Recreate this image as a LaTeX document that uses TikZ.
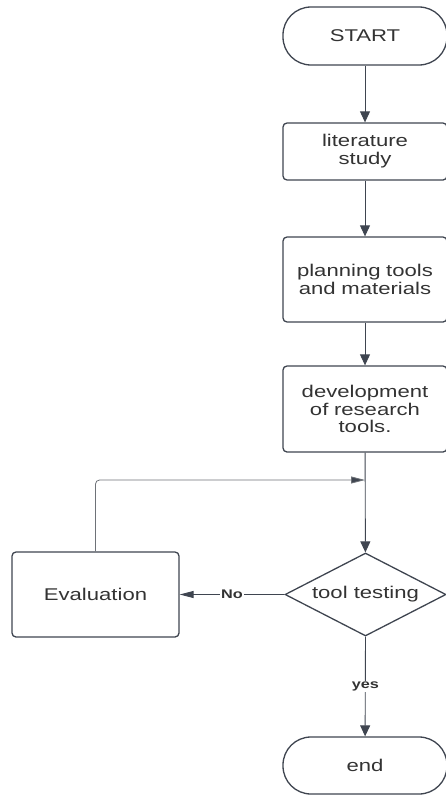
\documentclass[tikz,border=0pt]{standalone}
\usepackage{fontspec}
\setmainfont[FakeStretch=1.3]{Liberation Sans}
\usetikzlibrary{shapes.geometric,arrows.meta}
\definecolor{ln}{HTML}{3F4550}
\definecolor{tx}{HTML}{333333}
\definecolor{lp}{HTML}{6E7278}
\begin{document}
\begin{tikzpicture}[x=1pt,y=-1pt,
  box/.style={draw=ln, line width=1.3pt, rounded corners=4pt, minimum width=164pt,
    text width=156pt, align=center, inner sep=0pt,
    font=\fontsize{17}{17.8}\selectfont, text=tx},
  term/.style={box, rounded corners=28pt},
  dec/.style={diamond, aspect=2, draw=ln, line width=1.3pt, inner sep=0pt,
    minimum width=161pt, minimum height=83pt, align=center,
    font=\fontsize{17}{17.8}\selectfont, text=tx},
  arr/.style={draw=ln, line width=0.9pt, -{Triangle[length=11pt,width=10pt]}},
  arrthin/.style={draw=ln, line width=0.9pt, -{Triangle[length=14pt,width=7pt]}},
  loopline/.style={draw=lp, line width=0.8pt, rounded corners=4pt,
    -{Triangle[length=14pt,width=7pt,fill=ln]}},
  lab/.style={font=\bfseries\fontsize{12.5}{12.5}\selectfont, fill=white,
    inner sep=1pt, text=tx}]
\useasboundingbox (0,0) rectangle (446,795);
\clip (0,0) rectangle (446,795);
\node[term, minimum height=58pt] (start) at (365,36) {START};
\node[box, minimum height=57pt] (lit) at (365,151.5) {literature\\study};
\node[box, minimum height=85pt] (plan) at (365,279.5) {planning tools\\and materials};
\node[box, minimum height=86pt] (dev) at (365,409) {development\\of research\\tools.};
\node[dec] (test) at (365.5,594.5) {tool testing};
\node[box, minimum width=167pt, minimum height=85pt] (eval) at (95.5,594.5) {Evaluation};
\node[term, minimum height=57pt] (end) at (365,765.5) {end};
\coordinate (j) at (365,480);
\draw[arr] (start) -- (lit);
\draw[arr] (lit) -- (plan);
\draw[arr] (plan) -- (dev);
\draw[arr] (dev) -- (test);
\draw[loopline] (eval.north) |- (j);
\draw[arrthin] (test.west) -- node[lab]{No} (eval.east);
\draw[arr] (test.south) -- node[lab]{yes} (end);
\end{tikzpicture}
\end{document}
